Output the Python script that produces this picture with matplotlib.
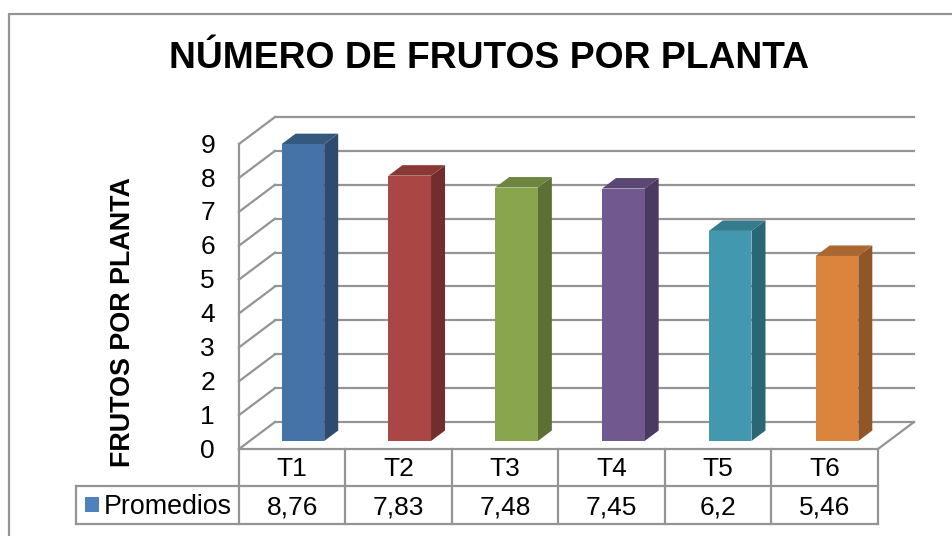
import matplotlib
matplotlib.use("Agg")
import matplotlib.pyplot as plt
from matplotlib.patches import Polygon, Rectangle

plt.rcParams['font.family'] = ['Liberation Sans', 'DejaVu Sans']

categorias = ["T1", "T2", "T3", "T4", "T5", "T6"]
promedios = [8.76, 7.83, 7.48, 7.45, 6.2, 5.46]
etiquetas = ["8,76", "7,83", "7,48", "7,45", "6,2", "5,46"]
ticks = list(range(0, 10))

colores = ["#4573A7", "#AA4643", "#89A54E", "#71588F", "#4198AF", "#DB843D"]
laterales = ["#2D4A6F", "#722E2C", "#5C6F34", "#4B3A60", "#2B6675", "#8F5728"]
tapas = ["#35587F", "#8A3836", "#6E853F", "#5B4774", "#347B8D", "#AA6830"]

GRIS = "#949494"
FUENTE = 19
W, H = 953, 536

fig = plt.figure(figsize=(W / 100, H / 100), dpi=100)
# ejes sobre el plano frontal: x en categorias, y en valores
ax = fig.add_axes([239 / W, 1 - 449 / H, (878 - 239) / W, (449 - 144) / H])
ax.set_xlim(0, 6)
ax.set_ylim(0, 9)
ax.axis("off")

# profundidad 3D: de frente (d=0) a fondo (d=1)
DX = 36 / 106.5
DY = 27 / 33.9


def p(x, y, d=0.0):
    return (x + d * DX, y + d * DY)


def linea(a, b, lw=1.6, color=GRIS, z=1):
    ax.plot([a[0], b[0]], [a[1], b[1]], color=color, lw=lw, clip_on=False,
            zorder=z, solid_capstyle="projecting")


# paredes y rejilla
for t in ticks:
    linea(p(0, t, 0), p(0, t, 1))
    linea(p(0, t, 1), p(6, t, 1))
linea(p(0, 0, 0), p(0, 9, 0))
linea(p(6, 0, 0), p(6, 0, 1))

# barras
D0, D1 = 0.296, 0.685
ANCHO = 0.4
PASO = 1.003
for i, v in enumerate(promedios):
    x0 = i * PASO + 0.5 - ANCHO / 2
    x1 = i * PASO + 0.5 + ANCHO / 2
    frente = [p(x0, 0, D0), p(x1, 0, D0), p(x1, v, D0), p(x0, v, D0)]
    lado = [p(x1, 0, D0), p(x1, 0, D1), p(x1, v, D1), p(x1, v, D0)]
    tapa = [p(x0, v, D0), p(x1, v, D0), p(x1, v, D1), p(x0, v, D1)]
    ax.add_patch(Polygon(lado, fc=laterales[i], ec="none", zorder=3, clip_on=False))
    ax.add_patch(Polygon(tapa, fc=tapas[i], ec="none", zorder=3, clip_on=False))
    ax.add_patch(Polygon(frente, fc=colores[i], ec="none", zorder=4, clip_on=False))

# etiquetas del eje y
for t in ticks:
    ax.text(-0.225, t - 0.05, str(t), ha="right", va="center", fontsize=FUENTE, color="black")

# tabla de datos
FILA1 = -37 / 33.9
FILA2 = -75 / 33.9
IZQ = -163 / 106.5
linea((0, 0), (6, 0), z=2)
linea((0, 0), (0, FILA2))
linea((IZQ, FILA1), (6, FILA1))
linea((IZQ, FILA2), (6, FILA2))
linea((IZQ, FILA1), (IZQ, FILA2))
for i in range(1, 7):
    linea((i, 0), (i, FILA2))
for i in range(6):
    ax.text(i + 0.5, FILA1 / 2 - 0.05, categorias[i], ha="center", va="center", fontsize=FUENTE)
    ax.text(i + 0.5, (FILA1 + FILA2) / 2 - 0.06, etiquetas[i], ha="center", va="center", fontsize=FUENTE)

# leyenda dentro de la tabla
ax.add_patch(Rectangle((-154 / 106.5, -63 / 33.9), 14 / 106.5, 15 / 33.9,
                       fc="#4F81BD", ec="none", clip_on=False))
ax.text(-135 / 106.5, (FILA1 + FILA2) / 2 - 0.06, "Promedios", ha="left", va="center", fontsize=19.3)

# textos
fig.text(489 / W, 1 - 58 / H, "NÚMERO DE FRUTOS POR PLANTA", ha="center", va="center",
         fontsize=26.8, fontweight="bold")
fig.text(123.5 / W, 1 - 322 / H, "FRUTOS POR PLANTA", rotation=90, ha="center", va="center",
         fontsize=19.4, fontweight="bold")

# marco exterior
fig.add_artist(plt.Line2D([9 / W, 9 / W, 1], [0, 1 - 14 / H, 1 - 14 / H],
                          color=GRIS, lw=1.6, transform=fig.transFigure))

fig.savefig("out.png", dpi=100)
